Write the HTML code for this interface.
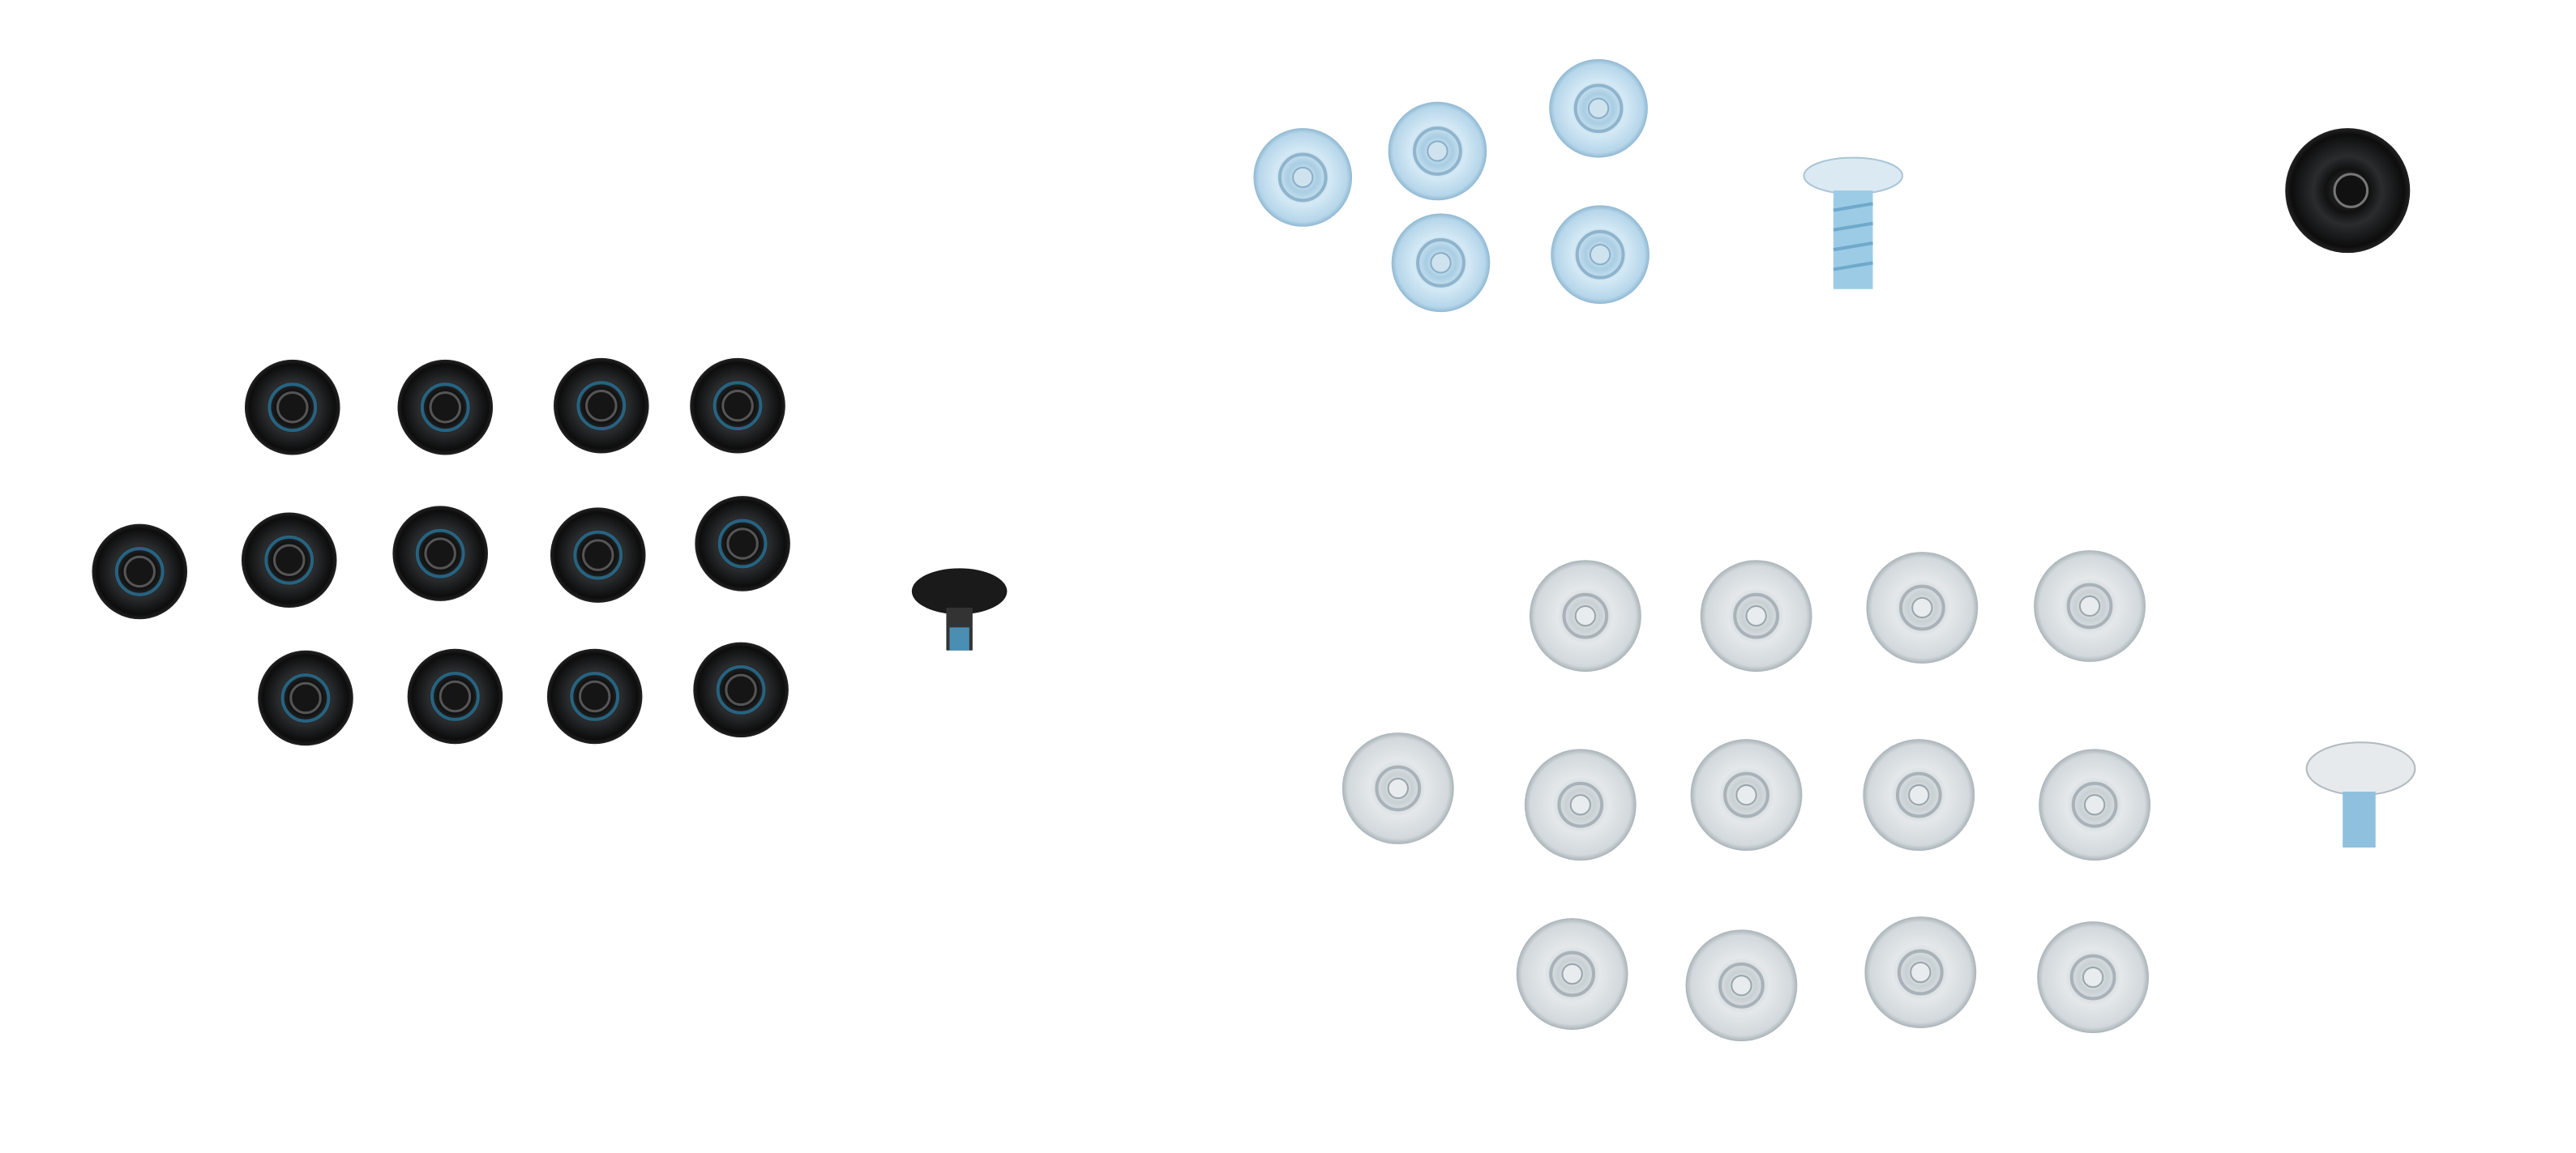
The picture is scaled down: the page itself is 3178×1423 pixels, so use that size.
<!DOCTYPE html>
<html><head><meta charset="utf-8"><style>html,body{margin:0;padding:0;background:#fff}svg{display:block}</style></head>
<body>
<svg width="3178" height="1423" viewBox="0 0 1568 702" preserveAspectRatio="none" xmlns="http://www.w3.org/2000/svg">
<defs>
<radialGradient id="bk" cx="50%" cy="50%" r="50%"><stop offset="0" stop-color="#3a3d40"/><stop offset="0.35" stop-color="#111"/><stop offset="0.55" stop-color="#2a2c2e"/><stop offset="0.9" stop-color="#0d0d0d"/><stop offset="1" stop-color="#222"/></radialGradient>
<radialGradient id="bl" cx="50%" cy="50%" r="50%"><stop offset="0" stop-color="#e8f3fb"/><stop offset="0.3" stop-color="#a9cde3"/><stop offset="0.55" stop-color="#d4e9f5"/><stop offset="0.9" stop-color="#b6d6ea"/><stop offset="1" stop-color="#8fb8d2"/></radialGradient>
<radialGradient id="sv" cx="50%" cy="50%" r="50%"><stop offset="0" stop-color="#f4f6f7"/><stop offset="0.25" stop-color="#c9d0d4"/><stop offset="0.5" stop-color="#e4e8ea"/><stop offset="0.9" stop-color="#d2d8dc"/><stop offset="1" stop-color="#aab3b8"/></radialGradient>
<g id="B"><circle r="29" fill="url(#bk)"/><circle r="14" fill="none" stroke="#2a7fa8" stroke-width="2" opacity="0.7"/><circle r="9" fill="#151515" stroke="#555" stroke-width="1.5"/></g>
<g id="L"><circle r="30" fill="url(#bl)"/><circle r="14" fill="none" stroke="#8fb4cc" stroke-width="2"/><circle r="6" fill="#cfe3ef" stroke="#8aaec6"/></g>
<g id="S"><circle r="34" fill="url(#sv)"/><circle r="13" fill="none" stroke="#a8b2b8" stroke-width="2"/><circle r="6" fill="#e8ecee" stroke="#9aa5ab"/></g>
</defs>
<use href="#B" x="178" y="248"/><use href="#B" x="271" y="248"/><use href="#B" x="366" y="247"/><use href="#B" x="449" y="247"/>
<use href="#B" x="85" y="348"/><use href="#B" x="176" y="341"/><use href="#B" x="268" y="337"/><use href="#B" x="364" y="338"/><use href="#B" x="452" y="331"/>
<use href="#B" x="186" y="425"/><use href="#B" x="277" y="424"/><use href="#B" x="362" y="424"/><use href="#B" x="451" y="420"/>
<!-- black side screw -->
<ellipse cx="584" cy="360" rx="29" ry="14" fill="#1a1a1a"/><rect x="576" y="370" width="16" height="26" fill="#333"/><rect x="578" y="382" width="12" height="14" fill="#4a8fb3"/>
<use href="#L" x="793" y="108"/><use href="#L" x="875" y="92"/><use href="#L" x="973" y="66"/><use href="#L" x="877" y="160"/><use href="#L" x="974" y="155"/>
<!-- blue side screw -->
<ellipse cx="1128" cy="107" rx="30" ry="11" fill="#dbe9f2" stroke="#a9c5d6"/><rect x="1116" y="116" width="24" height="60" fill="#9ccbe6"/>
<g stroke="#6fa9cb" stroke-width="2"><line x1="1116" y1="128" x2="1140" y2="124"/><line x1="1116" y1="140" x2="1140" y2="136"/><line x1="1116" y1="152" x2="1140" y2="148"/><line x1="1116" y1="164" x2="1140" y2="160"/></g>
<circle cx="1429" cy="116" r="38" fill="url(#bk)"/><circle cx="1431" cy="116" r="10" fill="#111" stroke="#777" stroke-width="1.5"/>
<use href="#S" x="965" y="375"/><use href="#S" x="1069" y="375"/><use href="#S" x="1170" y="370"/><use href="#S" x="1272" y="369"/>
<use href="#S" x="851" y="480"/><use href="#S" x="962" y="490"/><use href="#S" x="1063" y="484"/><use href="#S" x="1168" y="484"/><use href="#S" x="1275" y="490"/>
<use href="#S" x="957" y="593"/><use href="#S" x="1060" y="600"/><use href="#S" x="1169" y="592"/><use href="#S" x="1274" y="595"/>
<!-- silver side screw -->
<ellipse cx="1437" cy="468" rx="33" ry="16" fill="#e6eaec" stroke="#b0b9be"/><rect x="1426" y="482" width="20" height="34" fill="#8fc0dd"/>
</svg>
</body></html>
